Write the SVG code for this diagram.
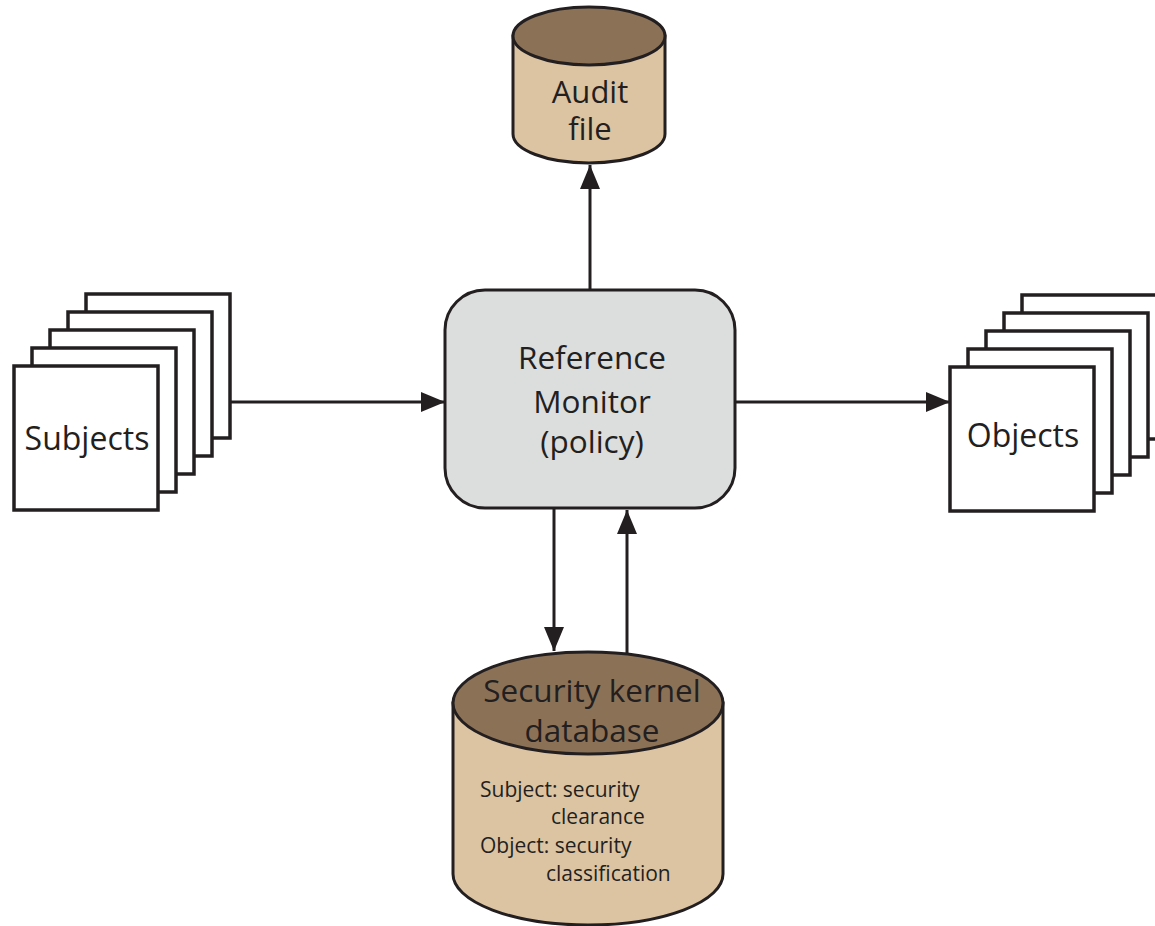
<svg xmlns="http://www.w3.org/2000/svg" width="1155" height="926" viewBox="0 0 1155 926">
<style>
.ln{stroke:#231f20;stroke-width:3;fill:none}
.box{fill:#ffffff;stroke:#231f20;stroke-width:3.5}
.body{fill:#dcc4a3;stroke:#231f20;stroke-width:3}
.lid{fill:#8b7257;stroke:#231f20;stroke-width:3}
.t{font-family:"Open Sans","Noto Sans",sans-serif;fill:#231f20;text-anchor:middle}
.s{font-family:"Open Sans","Noto Sans",sans-serif;fill:#231f20;font-size:21px}
</style>
<defs>
<marker id="ah" markerUnits="userSpaceOnUse" markerWidth="24" markerHeight="20" viewBox="0 0 24 20" refX="24" refY="10" orient="auto">
<path d="M0,0 L24,10 L0,20 Z" fill="#231f20"/>
</marker>
</defs>
<g id="connectors">
<line class="ln" x1="590" y1="290" x2="590" y2="165" marker-end="url(#ah)"/>
<line class="ln" x1="230" y1="402" x2="445" y2="402" marker-end="url(#ah)"/>
<line class="ln" x1="735" y1="402" x2="950" y2="402" marker-end="url(#ah)"/>
<line class="ln" x1="554" y1="509" x2="554" y2="651" marker-end="url(#ah)"/>
<line class="ln" x1="627" y1="655" x2="627" y2="510" marker-end="url(#ah)"/>
</g>
<g id="audit">
<path class="body" d="M513,36 L513,134 A76,29 0 0 0 665,134 L665,36 Z"/>
<ellipse class="lid" cx="589" cy="36" rx="76" ry="29"/>
<text class="t" x="590" y="103" font-size="31">Audit</text>
<text class="t" x="590" y="140" font-size="31">file</text>
</g>
<g id="subjects">
<rect class="box" x="86" y="294" width="144" height="144"/>
<rect class="box" x="68" y="312" width="144" height="144"/>
<rect class="box" x="50" y="330" width="144" height="144"/>
<rect class="box" x="32" y="348" width="144" height="144"/>
<rect class="box" x="14" y="366" width="144" height="144"/>
<text class="t" x="87" y="450" font-size="32">Subjects</text>
</g>
<g id="monitor">
<rect x="445" y="290" width="290" height="218" rx="40" ry="40" fill="#dcdddd" stroke="#231f20" stroke-width="3"/>
<text class="t" x="592" y="369" font-size="31.5">Reference</text>
<text class="t" x="592" y="413" font-size="31.5">Monitor</text>
<text class="t" x="592" y="453" font-size="31.5">(policy)</text>
</g>
<g id="objects">
<rect class="box" x="1022" y="295" width="144" height="144"/>
<rect class="box" x="1004" y="313" width="144" height="144"/>
<rect class="box" x="986" y="331" width="144" height="144"/>
<rect class="box" x="968" y="349" width="144" height="144"/>
<rect class="box" x="950" y="367" width="144" height="144"/>
<text class="t" x="1023" y="447" font-size="32">Objects</text>
</g>
<g id="database">
<path class="body" d="M453,703 L453,874 A135,51 0 0 0 723,874 L723,703 Z"/>
<ellipse class="lid" cx="588" cy="703" rx="135" ry="51"/>
<text class="t" x="592" y="702" font-size="31.5">Security kernel</text>
<text class="t" x="592" y="742" font-size="31.5">database</text>
<text class="s" x="480" y="797">Subject: security</text>
<text class="s" x="551" y="824">clearance</text>
<text class="s" x="480" y="853">Object: security</text>
<text class="s" x="546" y="881">classification</text>
</g>
</svg>
